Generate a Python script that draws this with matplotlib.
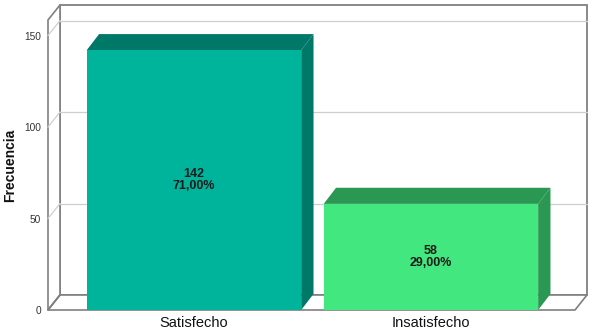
import matplotlib
matplotlib.use("Agg")
import matplotlib.pyplot as plt
from matplotlib.patches import Polygon

# -----------------------------
# Data
# -----------------------------
categories = ["Satisfecho", "Insatisfecho"]
counts = [142, 58]
percents = ["71,00%", "29,00%"]
yticks = [0, 50, 100, 150]

front_colors = ["#00B49C", "#42E77F"]
dark_colors = ["#007868", "#2A9852"]

plt.rcParams["font.family"] = ["Liberation Sans", "DejaVu Sans"]

# -----------------------------
# Geometry (front plane in data units, depth offset)
# -----------------------------
W, H = 594, 331
fig = plt.figure(figsize=(W / 100, H / 100), dpi=100)
left_px, right_px, bot_px, top_px = 48, 575, 310, 20
ax = fig.add_axes([left_px / W, 1 - bot_px / H,
                   (right_px - left_px) / W, (bot_px - top_px) / H])

xl, xr = -0.616, 1.608
ytop = 158.5
dx, dy = 0.0506, 8.2
bar_dx, bar_dy = 0.052, 8.8
bw = 0.905
ax.set_xlim(xl, xr)
ax.set_ylim(0, ytop)

frame_c = "#808080"
grid_c = "#cfcfcf"

# walls
back = Polygon([(xl + dx, dy), (xr + dx, dy), (xr + dx, ytop + dy), (xl + dx, ytop + dy)],
               closed=True, facecolor="white", edgecolor=frame_c, lw=1.3, clip_on=False, zorder=1)
ax.add_patch(back)
lwall = Polygon([(xl, 0), (xl + dx, dy), (xl + dx, ytop + dy), (xl, ytop)],
                closed=True, facecolor="white", edgecolor=frame_c, lw=1.2, clip_on=False, zorder=1)
ax.add_patch(lwall)
floor = Polygon([(xl, 0), (xr, 0), (xr + dx, dy), (xl + dx, dy)],
                closed=True, facecolor="white", edgecolor=frame_c, lw=1.2, clip_on=False, zorder=1)
ax.add_patch(floor)

# gridlines
for v in yticks[1:]:
    ax.plot([xl + dx, xr + dx], [v + dy, v + dy], color=grid_c, lw=0.9, clip_on=False, zorder=2)
    ax.plot([xl, xl + dx], [v, v + dy], color=grid_c, lw=0.9, clip_on=False, zorder=2)
ax.plot([xl, xl + dx], [0, dy], color=frame_c, lw=1.2, clip_on=False, zorder=2)

# bars
xs = list(range(len(categories)))
ax.bar(xs, counts, width=bw, color=front_colors, zorder=5, clip_on=False)
for x, v, dc in zip(xs, counts, dark_colors):
    x0, x1 = x - bw / 2, x + bw / 2
    top = Polygon([(x0, v), (x1, v), (x1 + bar_dx, v + bar_dy), (x0 + bar_dx, v + bar_dy)],
                  closed=True, facecolor=dc, edgecolor="none", zorder=4, clip_on=False)
    side = Polygon([(x1, 0), (x1 + bar_dx, bar_dy), (x1 + bar_dx, v + bar_dy), (x1, v)],
                   closed=True, facecolor=dc, edgecolor="none", zorder=4, clip_on=False)
    ax.add_patch(top)
    ax.add_patch(side)

for x, v, p in zip(xs, counts, percents):
    ax.text(x, v / 2, f"{v}\n{p}", ha="center", va="center", fontsize=9,
            fontweight="bold", color="#1a1a1a", linespacing=1.0, zorder=6)

# axes text
for s in ax.spines.values():
    s.set_visible(False)
ax.set_yticks(yticks)
ax.set_yticklabels([str(t) for t in yticks], fontsize=7.3, color="#333333")
ax.set_xticks(xs)
ax.set_xticklabels(categories, fontsize=10.5, color="#111111")
ax.tick_params(axis="y", length=0, pad=5)
ax.tick_params(axis="x", length=0, pad=4)
fig.text(10 / W, 1 - 165 / H, "Frecuencia", rotation=90, ha="center", va="center",
         fontsize=10, fontweight="bold", color="#111111")

fig.savefig("out.png", dpi=100)
